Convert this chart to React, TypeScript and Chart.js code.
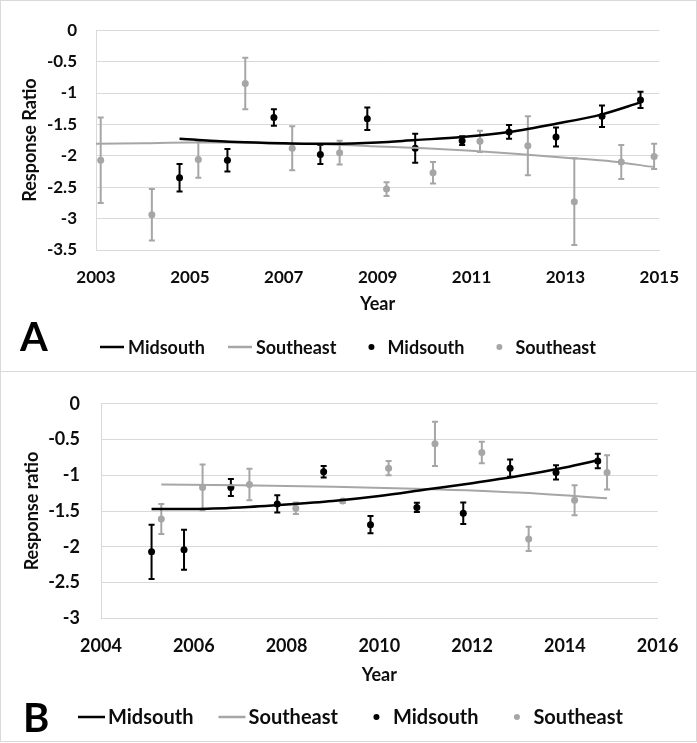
import React, { useEffect, useRef } from "react";
import { Chart, registerables } from "chart.js";

Chart.register(...registerables);

// ---------- Panel A data ----------
const yearsMidA = [2004.78, 2005.8, 2006.79, 2007.78, 2008.78, 2009.8, 2010.8, 2011.8, 2012.8, 2013.78, 2014.6];
const meanMidA = [-2.35, -2.07, -1.39, -1.98, -1.41, -1.88, -1.76, -1.62, -1.7, -1.37, -1.11];
const errMidA = [0.22, 0.18, 0.13, 0.15, 0.18, 0.23, 0.07, 0.11, 0.15, 0.17, 0.13];

const yearsSEA = [2003.1, 2004.19, 2005.18, 2006.18, 2007.18, 2008.19, 2009.19, 2010.18, 2011.18, 2012.2, 2013.19, 2014.19, 2014.89];
const meanSEA = [-2.07, -2.94, -2.06, -0.85, -1.88, -1.95, -2.53, -2.27, -1.77, -1.84, -2.73, -2.1, -2.01];
const errSEA = [0.68, 0.41, 0.29, 0.41, 0.35, 0.19, 0.11, 0.17, 0.17, 0.47, 0.69, 0.27, 0.2];

const trendMidAYears = [2004.78, 2006, 2007, 2008, 2009, 2009.8, 2010.8, 2011.8, 2012.8, 2013.78, 2014.6];
const trendMidAValues = [-1.73, -1.78, -1.8, -1.81, -1.79, -1.75, -1.7, -1.62, -1.49, -1.34, -1.15];
const trendSEAYears = [2003, 2004, 2005, 2006, 2007, 2008, 2009, 2010, 2011, 2012, 2013, 2014, 2014.89];
const trendSEAValues = [-1.81, -1.8, -1.79, -1.79, -1.81, -1.82, -1.85, -1.88, -1.92, -1.97, -2.03, -2.09, -2.18];

const xTicksA = [2003, 2005, 2007, 2009, 2011, 2013, 2015];
const yTicksA = [0, -0.5, -1, -1.5, -2, -2.5, -3, -3.5];

// ---------- Panel B data ----------
const yearsMidB = [2005.09, 2005.79, 2006.8, 2007.8, 2008.8, 2009.81, 2010.81, 2011.81, 2012.82, 2013.81, 2014.71];
const meanMidB = [-2.07, -2.04, -1.17, -1.4, -0.95, -1.69, -1.45, -1.53, -0.9, -0.96, -0.8];
const errMidB = [0.38, 0.28, 0.12, 0.12, 0.08, 0.12, 0.065, 0.15, 0.12, 0.1, 0.1];

const yearsSEB = [2005.3, 2006.19, 2007.2, 2008.2, 2009.21, 2010.2, 2011.2, 2012.21, 2013.22, 2014.21, 2014.91];
const meanSEB = [-1.61, -1.17, -1.13, -1.46, -1.36, -0.9, -0.56, -0.68, -1.89, -1.35, -0.96];
const errSEB = [0.21, 0.32, 0.22, 0.08, 0.02, 0.1, 0.31, 0.15, 0.17, 0.21, 0.24];

const trendMidBYears = [2005.09, 2006, 2007, 2008, 2009, 2010, 2011, 2012, 2013, 2014, 2014.71];
const trendMidBValues = [-1.47, -1.47, -1.45, -1.41, -1.36, -1.29, -1.2, -1.11, -1.01, -0.89, -0.79];
const trendSEBYears = [2005.3, 2007, 2009, 2011, 2013, 2014.91];
const trendSEBValues = [-1.13, -1.14, -1.16, -1.19, -1.24, -1.32];

const xTicksB = [2004, 2006, 2008, 2010, 2012, 2014, 2016];
const yTicksB = [0, -0.5, -1, -1.5, -2, -2.5, -3];

const seriesNames = ["Midsouth", "Southeast"];

// ---------- styles ----------
const BLACK = "#000000";
const GRAY = "#a6a6a6";
const GRID = "#d9d9d9";
const TEXT = "#0d0d0d";
const FONT = "Lato, 'Open Sans', sans-serif";

const zip = (xs: number[], ys: number[]) => xs.map((x, i) => ({ x, y: ys[i] }));

const errorBarPlugin = {
  id: "errorBars",
  beforeDatasetsDraw(chart: any) {
    const { ctx } = chart;
    const xs = chart.scales.x;
    const ys = chart.scales.y;
    chart.data.datasets.forEach((ds: any) => {
      if (!ds.errorBars) return;
      ctx.save();
      ctx.strokeStyle = ds.borderColor;
      ctx.lineWidth = ds.errorWidth || 2;
      const cap = ds.capHalf || 3;
      ds.data.forEach((pt: any, j: number) => {
        const e = ds.errorBars[j];
        const px = xs.getPixelForValue(pt.x);
        const top = ys.getPixelForValue(pt.y + e);
        const bot = ys.getPixelForValue(pt.y - e);
        ctx.beginPath();
        ctx.moveTo(px, top);
        ctx.lineTo(px, bot);
        ctx.moveTo(px - cap, top);
        ctx.lineTo(px + cap, top);
        ctx.moveTo(px - cap, bot);
        ctx.lineTo(px + cap, bot);
        ctx.stroke();
      });
      ctx.restore();
    });
  },
};

const panelLegendPlugin = {
  id: "panelLegend",
  afterDraw(chart: any, _args: any, opts: any) {
    const { ctx } = chart;
    ctx.save();
    ctx.font = `bold ${opts.fontSize}px ${FONT}`;
    ctx.textBaseline = "middle";
    ctx.textAlign = "left";
    let x = opts.x;
    const y = opts.y;
    chart.data.datasets.forEach((ds: any) => {
      if (ds.showLine) {
        ctx.strokeStyle = ds.borderColor;
        ctx.lineWidth = 2.5;
        ctx.beginPath();
        ctx.moveTo(x, y);
        ctx.lineTo(x + opts.boxWidth, y);
        ctx.stroke();
      } else {
        ctx.fillStyle = ds.backgroundColor;
        ctx.beginPath();
        ctx.arc(x + opts.boxWidth / 2, y, opts.dotRadius, 0, Math.PI * 2);
        ctx.fill();
      }
      const tx = x + opts.boxWidth + opts.textGap;
      ctx.fillStyle = TEXT;
      ctx.fillText(ds.label, tx, y + 1);
      x = tx + ctx.measureText(ds.label).width + opts.itemGap;
    });
    ctx.font = `bold ${opts.letterSize}px ${FONT}`;
    ctx.textBaseline = "alphabetic";
    ctx.fillStyle = "#000";
    ctx.fillText(opts.letter, opts.letterX, opts.letterY);
    ctx.restore();
  },
};

Chart.register(errorBarPlugin, panelLegendPlugin);

function makeConfig(p: any) {
  return {
    type: "scatter",
    data: {
      datasets: [
        {
          label: seriesNames[0],
          data: zip(p.trendMidYears, p.trendMidValues),
          showLine: true,
          borderColor: BLACK,
          backgroundColor: BLACK,
          borderWidth: 2.5,
          pointRadius: 0,
          cubicInterpolationMode: "monotone",
        },
        {
          label: seriesNames[1],
          data: zip(p.trendSEYears, p.trendSEValues),
          showLine: true,
          borderColor: GRAY,
          backgroundColor: GRAY,
          borderWidth: 2,
          pointRadius: 0,
          cubicInterpolationMode: "monotone",
        },
        {
          label: seriesNames[0],
          data: zip(p.yearsMid, p.meanMid),
          showLine: false,
          borderColor: BLACK,
          backgroundColor: BLACK,
          pointRadius: 3.5,
          pointBorderWidth: 0,
          errorBars: p.errMid,
          errorWidth: 2,
          capHalf: 3,
        },
        {
          label: seriesNames[1],
          data: zip(p.yearsSE, p.meanSE),
          showLine: false,
          borderColor: GRAY,
          backgroundColor: GRAY,
          pointRadius: 3.5,
          pointBorderWidth: 0,
          errorBars: p.errSE,
          errorWidth: 2,
          capHalf: 3,
        },
      ],
    },
    options: {
      responsive: false,
      animation: false,
      devicePixelRatio: 1,
      layout: { padding: p.padding },
      plugins: {
        legend: { display: false },
        tooltip: { enabled: false },
        panelLegend: p.legend,
      },
      scales: {
        x: {
          type: "linear",
          min: p.xTicks[0],
          max: p.xTicks[p.xTicks.length - 1],
          afterFit: (s: any) => {
            s.height = p.xAxisHeight;
          },
          afterBuildTicks: (s: any) => {
            s.ticks = p.xTicks.map((v: number) => ({ value: v }));
          },
          grid: { display: false, drawTicks: false },
          border: { display: true, color: GRID, width: 1 },
          ticks: {
            padding: p.xTickPad,
            color: TEXT,
            font: { family: FONT, size: p.tickSize, weight: "bold" },
            maxRotation: 0,
            autoSkip: false,
            callback: (v: any) => String(v),
          },
          title: {
            display: true,
            text: "Year",
            color: TEXT,
            font: { family: FONT, size: p.titleSize, weight: "bold" },
            padding: { top: 0, bottom: p.xTitlePad },
          },
        },
        y: {
          type: "linear",
          min: p.yTicks[p.yTicks.length - 1],
          max: p.yTicks[0],
          afterFit: (s: any) => {
            s.width = p.yAxisWidth;
          },
          afterBuildTicks: (s: any) => {
            s.ticks = p.yTicks.slice().reverse().map((v: number) => ({ value: v }));
          },
          grid: { color: GRID, lineWidth: 1, drawTicks: false },
          border: { display: true, color: GRID, width: 1 },
          ticks: {
            padding: p.yTickPad,
            color: TEXT,
            font: { family: FONT, size: p.yTickSize, weight: "bold" },
            callback: (v: any) => String(v),
          },
          title: {
            display: true,
            text: p.yTitle,
            color: TEXT,
            font: { family: FONT, size: p.titleSize, weight: "bold" },
            padding: { top: p.yTitlePad, bottom: 0 },
          },
        },
      },
    },
  };
}

const panelA = {
  yearsMid: yearsMidA,
  meanMid: meanMidA,
  errMid: errMidA,
  yearsSE: yearsSEA,
  meanSE: meanSEA,
  errSE: errSEA,
  trendMidYears: trendMidAYears,
  trendMidValues: trendMidAValues,
  trendSEYears: trendSEAYears,
  trendSEValues: trendSEAValues,
  xTicks: xTicksA,
  yTicks: yTicksA,
  yTitle: "Response Ratio",
  padding: { top: 18, left: 0, right: 34, bottom: 46 },
  xAxisHeight: 75,
  yAxisWidth: 95,
  xTickPad: 17,
  yTickPad: 19,
  xTitlePad: 10,
  yTitlePad: 18,
  tickSize: 17,
  yTickSize: 17,
  titleSize: 18,
  legend: {
    x: 99,
    y: 346,
    fontSize: 18,
    boxWidth: 24,
    textGap: 4,
    itemGap: 23,
    dotRadius: 3,
    letter: "A",
    letterX: 19,
    letterY: 350,
    letterSize: 40,
  },
};

const panelB = {
  yearsMid: yearsMidB,
  meanMid: meanMidB,
  errMid: errMidB,
  yearsSE: yearsSEB,
  meanSE: meanSEB,
  errSE: errSEB,
  trendMidYears: trendMidBYears,
  trendMidValues: trendMidBValues,
  trendSEYears: trendSEBYears,
  trendSEValues: trendSEBValues,
  xTicks: xTicksB,
  yTicks: yTicksB,
  yTitle: "Response ratio",
  padding: { top: 18.7, left: 0, right: 37, bottom: 45.7 },
  xAxisHeight: 77,
  yAxisWidth: 100,
  xTickPad: 17.5,
  yTickPad: 21,
  xTitlePad: 9.5,
  yTitlePad: 20,
  tickSize: 18,
  yTickSize: 18,
  titleSize: 18,
  legend: {
    x: 77,
    y: 345,
    fontSize: 20,
    boxWidth: 27,
    textGap: 3,
    itemGap: 25,
    dotRadius: 3,
    letter: "B",
    letterX: 22,
    letterY: 360,
    letterSize: 40,
  },
};

function Panel({ cfg, top, height }: { cfg: any; top: number; height: number }) {
  const ref = useRef<HTMLCanvasElement | null>(null);
  useEffect(() => {
    if (!ref.current) return;
    const chart = new Chart(ref.current, makeConfig(cfg) as any);
    let alive = true;
    if ((document as any).fonts && (document as any).fonts.load) {
      (document as any).fonts
        .load(`bold 18px Lato`)
        .then(() => {
          if (alive) chart.update();
        })
        .catch(() => {});
    }
    return () => {
      alive = false;
      chart.destroy();
    };
  }, [cfg]);
  return (
    <div
      style={{
        position: "absolute",
        left: 0,
        top,
        width: 695,
        height,
        border: "1px solid #d9d9d9",
        background: "#fff",
      }}
    >
      <canvas ref={ref} width={695} height={height} style={{ display: "block", width: 695, height }} />
    </div>
  );
}

export default function App() {
  return (
    <div style={{ position: "absolute", left: 0, top: 0, width: 697, height: 743, background: "#fff" }}>
      <Panel cfg={panelA} top={0} height={370} />
      <Panel cfg={panelB} top={371} height={369} />
    </div>
  );
}
